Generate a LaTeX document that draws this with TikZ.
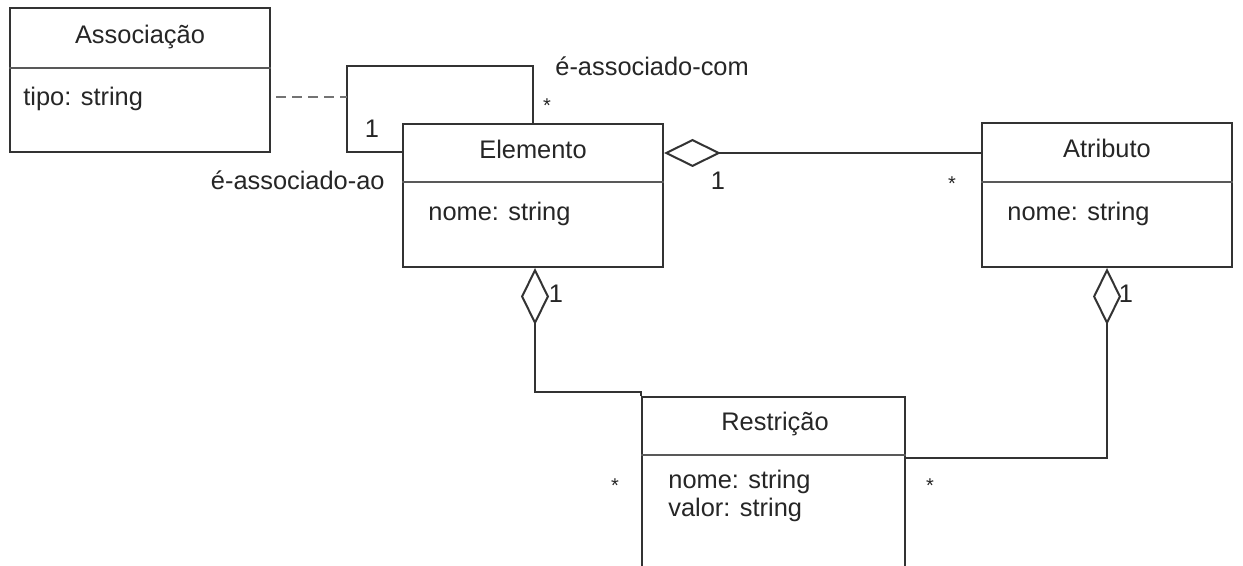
\documentclass[tikz,border=0pt]{standalone}
\usepackage{fontspec}
\setmainfont{Liberation Sans}
\usetikzlibrary{arrows.meta}
\begin{document}
\begin{tikzpicture}[x=0.5pt,y=-0.5pt,
  cls/.style={draw=black!80, line width=1pt, rectangle, inner sep=0pt},
  divider/.style={draw=black!65, line width=1.2pt},
  lbl/.style={font=\fontsize{12.7}{15}\selectfont, text=black!85, inner sep=0pt, text height=0.72em, text depth=0.2em},
  star/.style={font=\fontsize{10}{12}\selectfont, text=black!85, inner sep=0pt},
  conn/.style={draw=black!80, line width=1pt},
  agg/.style={conn, {Diamond[open,length=28.5pt,width=14pt,line width=1pt]}-},
  dashconn/.style={draw=black!55, line width=1pt, dash pattern=on 5pt off 3pt}]
\useasboundingbox (0,0) rectangle (1243,566);
\clip (0,0) rectangle (1243,566);
\fill[white] (0,0) rectangle (1243,566);
% classes
\node[cls, minimum width=130pt, minimum height=72pt] (assoc) at (140,80) {};
\node[cls, minimum width=130pt, minimum height=71.5pt] (elem) at (533,195.5) {};
\node[cls, minimum width=125pt, minimum height=72pt] (attr) at (1107,195) {};
\node[cls, minimum width=131.5pt, minimum height=96.5pt] (restr) at (773.5,493.5) {};
\draw[divider] (assoc.west |- 0,68) -- (assoc.east |- 0,68);
\draw[divider] (elem.west |- 0,182) -- (elem.east |- 0,182);
\draw[divider] (attr.west |- 0,182) -- (attr.east |- 0,182);
\draw[divider] (restr.west |- 0,455) -- (restr.east |- 0,455);
% titles and attributes
\node[lbl] (assocT) at (140,38) {Associação};
\node[lbl, anchor=west] (assocA) at (23,100) {tipo: string};
\node[lbl] (elemT) at (533,153) {Elemento};
\node[lbl, anchor=west] (elemA) at (428,215) {nome: string};
\node[lbl] (attrT) at (1107,152) {Atributo};
\node[lbl, anchor=west] (attrA) at (1007,215) {nome: string};
\node[lbl] (restrT) at (775,425) {Restrição};
\node[lbl, anchor=west] (restrA) at (668,483) {nome: string};
\node[lbl, anchor=west] (restrB) at (668,511) {valor: string};
% self association
\coordinate (loopTL) at (347,66);
\coordinate (loopBL) at (347,152);
\coordinate (loopM) at (347,97);
\draw[conn] (elem.north) -- (elem.north |- loopTL) -- (loopTL) -- (loopBL) -- (elem.west |- loopBL);
\draw[dashconn, shorten <=2.5pt] (assoc.east |- loopM) -- (loopM);
% aggregations
\draw[agg] (elem.east |- 0,153) -- (attr.west |- 0,153);
\coordinate (c1) at (535,392);
\draw[agg] (elem.south -| c1) -- (c1) -- (restr.north west |- c1) -- (restr.north west);
\coordinate (c2) at (1107,458);
\draw[agg] (attr.south) -- (c2) -- (restr.east |- c2);
% role names and multiplicities
\node[lbl, anchor=west] (rcom) at (555,70) {é-associado-com};
\node[lbl, anchor=east] (rao) at (385,184) {é-associado-ao};
\node[lbl] (m1) at (372,132) {1};
\node[star] (m2) at (547,106) {*};
\node[lbl] (m3) at (718,184) {1};
\node[star] (m4) at (952,184) {*};
\node[lbl] (m5) at (556,297) {1};
\node[lbl] (m6) at (1126,297) {1};
\node[star] (m7) at (615,486) {*};
\node[star] (m8) at (930,486) {*};
\end{tikzpicture}
\end{document}
